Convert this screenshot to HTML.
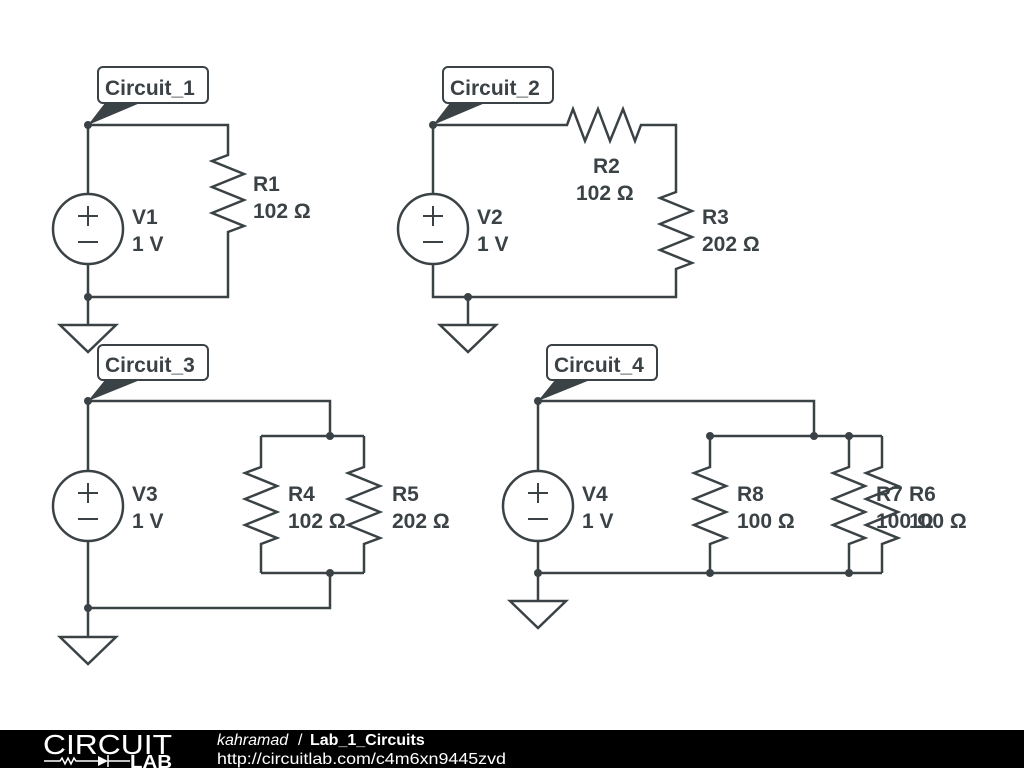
<!DOCTYPE html>
<html><head><meta charset="utf-8"><style>
html,body{margin:0;padding:0;background:#fff;width:1024px;height:768px;overflow:hidden}
svg{display:block}
text{font-family:"Liberation Sans",sans-serif;font-weight:bold;fill:#3b4246;font-size:21px}
</style></head><body>
<svg width="1024" height="768" viewBox="0 0 1024 768" xmlns="http://www.w3.org/2000/svg">
<g fill="none" stroke="#3b4246" stroke-width="2.5" stroke-linejoin="miter">
<path d="M88 125 H228 V155 l-16 6 l32 13 l-32 13 l32 13 l-32 13 l32 13 l-16 6 V297 H88 Z"/>
<path d="M88 297 V325"/>
<path d="M60 325 H116 L88 352 Z"/>
<path d="M433 125 H567 l6 -16 l12 32 l13 -32 l12 32 l13 -32 l12 32 l6 -16 H676 V192 l-16 6 l32 13 l-32 13 l32 13 l-32 13 l32 13 l-16 6 V297 H433 Z"/>
<path d="M468 297 V325"/>
<path d="M440 325 H496 L468 352 Z"/>
<path d="M88 401 H330 V436 M88 401 V608 H330 V573"/>
<path d="M261 436 H364 M261 573 H364"/>
<path d="M261 436 V467 l-16 6 l32 13 l-32 13 l32 13 l-32 13 l32 13 l-16 6 V573"/>
<path d="M364 436 V467 l-16 6 l32 13 l-32 13 l32 13 l-32 13 l32 13 l-16 6 V573"/>
<path d="M88 608 V637"/>
<path d="M60 637 H116 L88 664 Z"/>
<path d="M538 401 H814 V436 M538 401 V573 H882"/>
<path d="M710 436 H882"/>
<path d="M710 436 V467 l-16 6 l32 13 l-32 13 l32 13 l-32 13 l32 13 l-16 6 V573"/>
<path d="M849 436 V467 l-16 6 l32 13 l-32 13 l32 13 l-32 13 l32 13 l-16 6 V573"/>
<path d="M882 436 V467 l-16 6 l32 13 l-32 13 l32 13 l-32 13 l32 13 l-16 6 V573"/>
<path d="M538 573 V601"/>
<path d="M510 601 H566 L538 628 Z"/>
</g>
<g stroke="#3b4246" stroke-width="2.5" fill="#fff">
<circle cx="88" cy="229" r="35"/>
<circle cx="433" cy="229" r="35"/>
<circle cx="88" cy="506" r="35"/>
<circle cx="538" cy="506" r="35"/>
</g>
<g stroke="#3b4246" stroke-width="2" fill="none">
<path d="M78 216 H98 M88 206 V226 M78 242 H98"/>
<path d="M423 216 H443 M433 206 V226 M423 242 H443"/>
<path d="M78 493 H98 M88 483 V503 M78 519 H98"/>
<path d="M528 493 H548 M538 483 V503 M528 519 H548"/>
</g>
<g fill="#3b4246">
<circle cx="88" cy="125" r="4"/><circle cx="88" cy="297" r="4"/>
<circle cx="433" cy="125" r="4"/><circle cx="468" cy="297" r="4"/>
<circle cx="88" cy="401" r="4"/><circle cx="330" cy="436" r="4"/><circle cx="330" cy="573" r="4"/><circle cx="88" cy="608" r="4"/>
<circle cx="538" cy="401" r="4"/><circle cx="710" cy="436" r="4"/><circle cx="814" cy="436" r="4"/><circle cx="849" cy="436" r="4"/>
<circle cx="538" cy="573" r="4"/><circle cx="710" cy="573" r="4"/><circle cx="849" cy="573" r="4"/>
<path d="M88 125 L105 103 L140 103 Z"/>
<path d="M433 125 L450 103 L485 103 Z"/>
<path d="M88 401 L105 380 L140 380 Z"/>
<path d="M538 401 L555 380 L590 380 Z"/>
</g>
<g fill="#fff" stroke="#3b4246" stroke-width="2">
<rect x="98" y="67" width="110" height="36" rx="5"/>
<rect x="443" y="67" width="110" height="36" rx="5"/>
<rect x="98" y="345" width="110" height="35" rx="5"/>
<rect x="547" y="345" width="110" height="35" rx="5"/>
</g>
<text x="105" y="95">Circuit_1</text>
<text x="450" y="95">Circuit_2</text>
<text x="105" y="372">Circuit_3</text>
<text x="554" y="372">Circuit_4</text>
<text x="253" y="191">R1</text><text x="253" y="218">102 Ω</text>
<text x="132" y="224">V1</text><text x="132" y="251">1 V</text>
<text x="593" y="173">R2</text><text x="576" y="200">102 Ω</text>
<text x="702" y="224">R3</text><text x="702" y="251">202 Ω</text>
<text x="477" y="224">V2</text><text x="477" y="251">1 V</text>
<text x="132" y="501">V3</text><text x="132" y="528">1 V</text>
<text x="288" y="501">R4</text><text x="288" y="528">102 Ω</text>
<text x="392" y="501">R5</text><text x="392" y="528">202 Ω</text>
<text x="582" y="501">V4</text><text x="582" y="528">1 V</text>
<text x="737" y="501">R8</text><text x="737" y="528">100 Ω</text>
<text x="876" y="501">R7</text><text x="876" y="528">100 Ω</text>
<text x="909" y="501">R6</text><text x="909" y="528">100 Ω</text>
<rect x="0" y="730" width="1024" height="38" fill="#000"/>
<text x="43" y="754" textLength="129" lengthAdjust="spacingAndGlyphs" style="font-weight:normal;font-size:28px;fill:#fff">CIRCUIT</text>
<path d="M44 761 H60 l2 -3 l3 6 l3 -6 l3 6 l3 -6 l2 3 H98" stroke="#fff" stroke-width="1.5" fill="none"/>
<path d="M98 756 L108 761 L98 766 Z" fill="#fff"/>
<path d="M108 755 V767 M108 761 H130" stroke="#fff" stroke-width="1.5"/>
<text x="130" y="768" textLength="42" lengthAdjust="spacingAndGlyphs" style="font-size:18px;fill:#fff">LAB</text>
<text x="217" y="745" style="font-size:16px;fill:#fff;font-weight:normal;font-style:italic">kahramad</text>
<text x="298" y="745" style="font-size:16px;fill:#fff;font-weight:normal">/</text>
<text x="310" y="745" style="font-size:16px;fill:#fff">Lab_1_Circuits</text>
<text x="217" y="764" textLength="289" lengthAdjust="spacingAndGlyphs" style="font-size:16px;fill:#fff;font-weight:normal">http://circuitlab.com/c4m6xn9445zvd</text>
</svg>
</body></html>
